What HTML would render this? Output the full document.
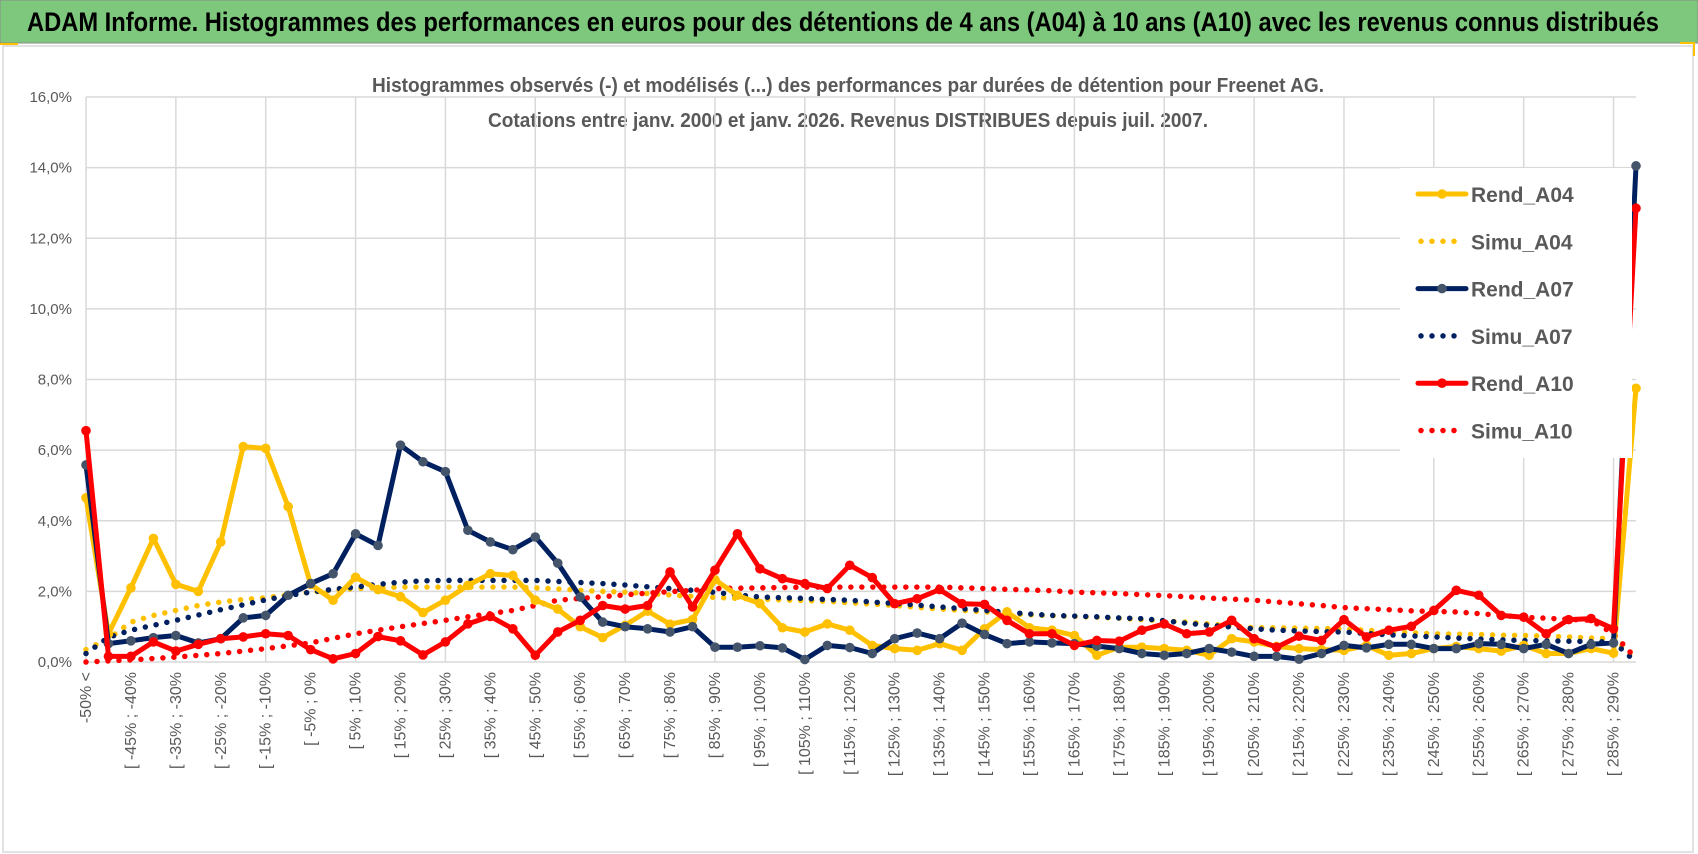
<!DOCTYPE html>
<html><head><meta charset="utf-8"><style>
html,body{margin:0;padding:0;background:#fff;width:1698px;height:854px;overflow:hidden}
svg{display:block;font-family:"Liberation Sans Narrow","Liberation Sans",sans-serif}
</style></head><body>
<svg id="chart" width="1698" height="854" viewBox="0 0 1698 854">
<rect x="0" y="0" width="1698" height="43" fill="#7dc87c" stroke="#8a8a8a" stroke-width="1"/>
<text x="27" y="31" font-size="27" font-weight="bold" fill="#000" textLength="1632" lengthAdjust="spacingAndGlyphs">ADAM Informe. Histogrammes des performances en euros pour des détentions de 4 ans (A04) à 10 ans (A10) avec les revenus connus distribués</text>
<rect x="3" y="46" width="1690" height="806" fill="#fff" stroke="#d9d9d9" stroke-width="1.5"/>
<line x1="0" y1="44" x2="18" y2="44" stroke="#ffc000" stroke-width="2"/>
<polyline points="1680,43 1694,43 1694,56" fill="none" stroke="#ffc000" stroke-width="2"/>
<text x="848" y="92" text-anchor="middle" font-size="20" font-weight="bold" fill="#595959" textLength="952" lengthAdjust="spacingAndGlyphs">Histogrammes observés (-) et modélisés (...) des performances par durées de détention pour Freenet AG.</text>
<text x="848" y="127" text-anchor="middle" font-size="20" font-weight="bold" fill="#595959" textLength="720" lengthAdjust="spacingAndGlyphs">Cotations entre janv. 2000 et janv. 2026. Revenus DISTRIBUES depuis juil. 2007.</text>
<g id="grid"></g><g id="yaxis"></g><g id="xaxis"></g><g id="series"></g><g id="legend"></g>
</svg>
<script>
const categories=[];
categories.push("-50% <");
for(let i=1;i<70;i++){categories.push("[ "+(-55+5*i)+"% ; "+(-50+5*i)+"%");}
const yTicks=[0,2,4,6,8,10,12,14,16];
const rendA04=[4.65,0.8,2.1,3.5,2.2,2.0,3.4,6.1,6.05,4.4,2.2,1.75,2.4,2.05,1.85,1.4,1.75,2.17,2.5,2.45,1.75,1.5,1.0,0.69,1.04,1.44,1.07,1.2,2.33,1.89,1.65,0.97,0.85,1.08,0.9,0.47,0.38,0.33,0.52,0.33,0.94,1.42,0.97,0.9,0.75,0.19,0.42,0.42,0.38,0.33,0.19,0.66,0.57,0.44,0.38,0.35,0.33,0.47,0.19,0.24,0.38,0.44,0.38,0.31,0.47,0.24,0.24,0.38,0.25,7.75];
const rendA07=[5.58,0.52,0.6,0.69,0.75,0.54,0.66,1.25,1.32,1.89,2.22,2.5,3.63,3.3,6.14,5.67,5.39,3.73,3.4,3.18,3.54,2.8,1.84,1.13,1.0,0.94,0.85,1.0,0.42,0.42,0.46,0.4,0.07,0.47,0.41,0.24,0.66,0.82,0.66,1.1,0.78,0.52,0.57,0.54,0.52,0.45,0.38,0.24,0.19,0.24,0.38,0.28,0.16,0.16,0.08,0.24,0.47,0.4,0.5,0.5,0.38,0.38,0.52,0.5,0.38,0.5,0.24,0.5,0.54,14.05];
const rendA10=[6.55,0.16,0.16,0.57,0.31,0.5,0.66,0.71,0.8,0.75,0.35,0.09,0.24,0.72,0.6,0.2,0.57,1.08,1.29,0.94,0.19,0.85,1.18,1.6,1.5,1.6,2.55,1.56,2.6,3.63,2.64,2.36,2.22,2.08,2.74,2.39,1.65,1.79,2.05,1.65,1.63,1.18,0.8,0.8,0.47,0.61,0.59,0.9,1.08,0.8,0.85,1.18,0.66,0.42,0.73,0.61,1.2,0.71,0.9,1.01,1.46,2.03,1.89,1.32,1.27,0.8,1.2,1.23,0.94,12.85];
const simuA04=[0.35,0.66,1.13,1.32,1.46,1.6,1.7,1.77,1.82,1.9,1.98,2.03,2.08,2.1,2.12,2.12,2.12,2.12,2.12,2.12,2.1,2.07,2.03,2.0,1.98,1.94,1.9,1.86,1.83,1.8,1.78,1.76,1.74,1.72,1.68,1.64,1.6,1.55,1.5,1.46,1.42,1.37,1.34,1.31,1.29,1.27,1.24,1.2,1.16,1.13,1.08,1.02,0.97,0.97,0.96,0.95,0.94,0.9,0.86,0.83,0.8,0.79,0.78,0.76,0.75,0.73,0.71,0.68,0.66,0.1];
const simuA07=[0.24,0.7,0.9,1.04,1.18,1.33,1.48,1.62,1.76,1.88,1.98,2.06,2.12,2.2,2.26,2.3,2.31,2.31,2.31,2.31,2.31,2.28,2.25,2.22,2.18,2.13,2.08,2.03,1.97,1.9,1.84,1.82,1.8,1.77,1.75,1.7,1.66,1.61,1.56,1.51,1.46,1.41,1.36,1.32,1.3,1.28,1.25,1.23,1.17,1.1,1.04,0.99,0.94,0.9,0.88,0.86,0.85,0.81,0.77,0.74,0.71,0.68,0.65,0.63,0.61,0.6,0.59,0.58,0.57,0.0];
const simuA10=[0.0,0.03,0.06,0.1,0.14,0.19,0.24,0.31,0.38,0.46,0.54,0.67,0.8,0.9,1.0,1.09,1.18,1.28,1.37,1.46,1.6,1.75,1.8,1.85,1.9,1.95,1.99,2.03,2.08,2.09,2.1,2.11,2.12,2.12,2.12,2.12,2.12,2.12,2.12,2.1,2.08,2.06,2.04,2.02,1.98,1.96,1.94,1.91,1.88,1.85,1.81,1.78,1.75,1.7,1.65,1.6,1.54,1.51,1.48,1.45,1.43,1.42,1.37,1.32,1.27,1.24,1.21,1.18,0.8,0.1];
const NS="http://www.w3.org/2000/svg";
const X0=86,X1=1636,Y0=662,Y16=97;
function xs(i){return X0+(X1-X0)*i/(categories.length-1);}
function ys(v){return Y0-(Y0-Y16)*v/16;}
function mk(tag,parent,attrs){const e=document.createElementNS(NS,tag);for(const k in attrs)e.setAttribute(k,attrs[k]);parent.appendChild(e);return e;}
const grid=document.getElementById('grid'),yax=document.getElementById('yaxis'),xax=document.getElementById('xaxis'),ser=document.getElementById('series'),leg=document.getElementById('legend');
yTicks.forEach(t=>{
 const l=mk('line',grid,{x1:X0,x2:X1,y1:ys(t),y2:ys(t),stroke:'#d9d9d9','stroke-width':1.5});
 
 
 const tx=mk('text',yax,{x:72,y:ys(t)+5,'text-anchor':'end','font-size':15,fill:'#595959'});
 tx.textContent=t.toFixed(1).replace('.',',')+'%';
 
 
});
for(let i=0;i<categories.length;i+=4){
 const l=mk('line',grid,{x1:xs(i),x2:xs(i),y1:Y16,y2:Y0,stroke:'#d9d9d9','stroke-width':1.5});
 
 
}
for(let i=0;i<categories.length;i+=2){
 const x=xs(i)+5;
 const tx=mk('text',xax,{x:x,y:672,'text-anchor':'end','font-size':16,fill:'#595959',transform:'rotate(-90 '+x+' 672)'});
 tx.textContent=categories[i];
 
 
}
function pts(arr){return arr.map((v,i)=>xs(i).toFixed(1)+','+ys(v).toFixed(1)).join(' ');}
function dotted(arr,color,name){
 const p=mk('polyline',ser,{points:pts(arr),fill:'none',stroke:color,'stroke-width':5.5,'stroke-dasharray':'0 11','stroke-linecap':'round'});
 
 
}
function solid(arr,color,mcolor,name){
 const g=mk('g',ser,{});
 
 
 mk('polyline',g,{points:pts(arr),fill:'none',stroke:color,'stroke-width':5,'stroke-linejoin':'round'});
 arr.forEach((v,i)=>{const c=mk('circle',g,{cx:xs(i),cy:ys(v),r:4.8,fill:mcolor});
  
  });
}
dotted(simuA04,'#ffc000','simu-a04-line');
dotted(simuA07,'#002060','simu-a07-line');
dotted(simuA10,'#ff0000','simu-a10-line');
solid(rendA04,'#ffc000','#ffc000','rend-a04-line');
solid(rendA07,'#002060','#44546a','rend-a07-line');
solid(rendA10,'#ff0000','#ff0000','rend-a10-line');
const lb=mk('rect',leg,{x:1400,y:168,width:232,height:290,fill:'#fff'});


const legendItems=[['Rend_A04','#ffc000','#ffc000',false],['Simu_A04','#ffc000','',true],['Rend_A07','#002060','#44546a',false],['Simu_A07','#002060','',true],['Rend_A10','#ff0000','#ff0000',false],['Simu_A10','#ff0000','',true]];
legendItems.forEach((it,k)=>{
 const y=194+47.3*k;
 const g=mk('g',leg,{});
 
 
 if(it[3]){mk('line',g,{x1:1421,x2:1462,y1:y,y2:y,stroke:it[1],'stroke-width':5.5,'stroke-dasharray':'0 11','stroke-linecap':'round'});}
 else{mk('line',g,{x1:1418,x2:1466,y1:y,y2:y,stroke:it[1],'stroke-width':5,'stroke-linecap':'round'});mk('circle',g,{cx:1442,cy:y,r:4.8,fill:it[2]});}
 const t=mk('text',g,{x:1471,y:y+8,'font-size':21,'font-weight':'bold',fill:'#595959'});
 t.textContent=it[0];
});
</script>
</body></html>
